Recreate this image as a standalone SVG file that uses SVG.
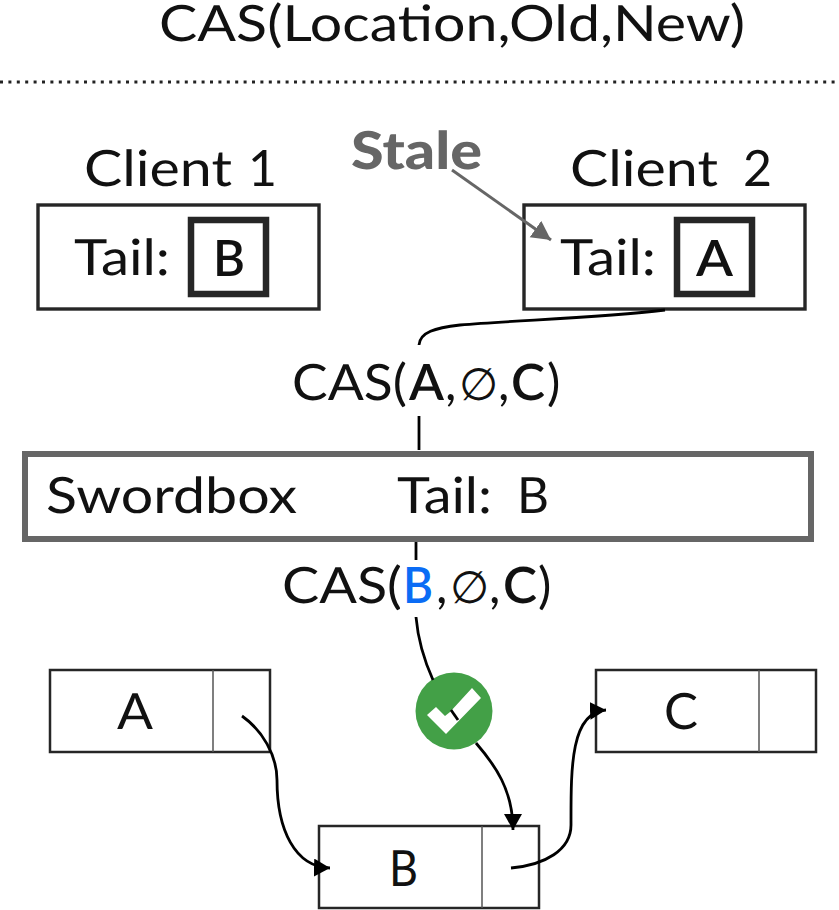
<svg xmlns="http://www.w3.org/2000/svg" width="839" height="910" viewBox="0 0 839 910">
<style>
text{font-family:"Lato","Noto Sans",sans-serif;fill:#111;font-size:50px;text-rendering:geometricPrecision}
.b{font-weight:700}
.m{font-weight:600}
.sym{font-family:"DejaVu Sans",sans-serif;font-size:45px}
.box{fill:#fff;stroke:#262626;stroke-width:3.4}
.cell{fill:#fff;stroke:#262626;stroke-width:2.5}
.div{stroke:#555;stroke-width:1.5;fill:none}
.in{fill:#fff;stroke:#262626;stroke-width:6.5}
.c{fill:none;stroke:#000;stroke-width:2.8}
</style>
<defs>
<marker id="ah" markerUnits="userSpaceOnUse" markerWidth="20" markerHeight="20" refX="16" refY="9" orient="auto"><path d="M0 0L16 9L0 18Z" fill="#000"/></marker>
<marker id="ag" markerUnits="userSpaceOnUse" markerWidth="24" markerHeight="24" refX="19" refY="10" orient="auto"><path d="M0 0L19 10L0 20Z" fill="#666"/></marker>
</defs>
<text id="title" x="159" y="41" textLength="586" lengthAdjust="spacingAndGlyphs">CAS(Location,Old,New)</text>
<line x1="0" y1="82" x2="839" y2="82" stroke="#222" stroke-width="3" stroke-dasharray="3 5.4"/>
<g id="client1">
<text y="186"><tspan x="84" textLength="148" lengthAdjust="spacingAndGlyphs">Client</tspan><tspan x="248">1</tspan></text>
<rect class="box" x="38" y="205" width="281" height="104"/>
<text x="74" y="275" textLength="96" lengthAdjust="spacingAndGlyphs">Tail:</text>
<rect class="in" x="191" y="220" width="75" height="74"/>
<text x="213" y="276" textLength="32" lengthAdjust="spacingAndGlyphs" class="m">B</text>
</g>
<g id="client2">
<text y="186"><tspan x="570" textLength="148" lengthAdjust="spacingAndGlyphs">Client</tspan><tspan x="743">2</tspan></text>
<rect class="box" x="524" y="205" width="281" height="104"/>
<text x="560" y="275" textLength="96" lengthAdjust="spacingAndGlyphs">Tail:</text>
<rect class="in" x="677" y="220" width="75" height="74"/>
<text x="696" y="276" textLength="37" lengthAdjust="spacingAndGlyphs" class="m">A</text>
</g>
<g id="stale">
<text x="351" y="169" textLength="131" lengthAdjust="spacingAndGlyphs" class="b" style="fill:#666;font-weight:900;font-size:52px">Stale</text>
</g>
<g id="swordbox">
<rect x="25" y="454" width="786" height="85" fill="#fff" stroke="#666" stroke-width="6"/>
<text x="46" y="513" textLength="251" lengthAdjust="spacingAndGlyphs">Swordbox</text>
<text x="397" y="513" textLength="95" lengthAdjust="spacingAndGlyphs">Tail:</text>
<text x="517" y="513" textLength="32" lengthAdjust="spacingAndGlyphs">B</text>
</g>
<g id="nodeA">
<rect class="cell" x="50" y="670" width="220" height="82"/>
<line class="div" x1="213" y1="670" x2="213" y2="752"/>
<text x="117" y="729" textLength="36" lengthAdjust="spacingAndGlyphs">A</text>
</g>
<g id="nodeB">
<rect class="cell" x="319" y="826" width="220" height="82"/>
<line class="div" x1="482" y1="826" x2="482" y2="908"/>
<text x="389" y="886" textLength="29" lengthAdjust="spacingAndGlyphs">B</text>
</g>
<g id="nodeC">
<rect class="cell" x="596" y="670" width="220" height="82"/>
<line class="div" x1="759" y1="670" x2="759" y2="752"/>
<text x="664" y="729" textLength="34" lengthAdjust="spacingAndGlyphs">C</text>
</g>
<g id="check">
<circle cx="454" cy="711" r="38.5" fill="#43a047"/>
<path d="M427 715L436 707L445 716L450 712L472 688L481 698L446 734Z" fill="#fff"/>
</g>
<g id="connectors">
<path d="M452 170L551 240" fill="none" stroke="#666" stroke-width="3" marker-end="url(#ag)"/>
<path class="c" d="M665 310C600 318 520 320 460 325C435 328 420 332 419 345"/>
<line class="c" x1="419" y1="416" x2="419" y2="450"/>
<line class="c" x1="416" y1="542" x2="416" y2="560"/>
<path class="c" d="M416 617C418 640 424 660 433 680"/>
<path class="c" d="M451 710L458 720"/>
<path class="c" d="M476 743C495 765 513 790 513 830" marker-end="url(#ah)"/>
<path class="c" d="M242 716C262 730 277 755 277 780C277 830 295 867 330 868" marker-end="url(#ah)"/>
<path class="c" d="M511 868C545 865 571 850 571 825C571 770 570 712 606 710" marker-end="url(#ah)"/>
</g>
<g id="cas1">
<text y="400"><tspan x="292" textLength="115" lengthAdjust="spacingAndGlyphs">CAS(</tspan><tspan x="409" textLength="35" lengthAdjust="spacingAndGlyphs" class="m">A</tspan><tspan x="445">,</tspan><tspan x="459" class="sym">∅</tspan><tspan x="498">,</tspan><tspan x="511" textLength="34" lengthAdjust="spacingAndGlyphs" class="m">C</tspan><tspan x="547">)</tspan></text>
</g>
<g id="cas2">
<text y="603"><tspan x="282" textLength="120" lengthAdjust="spacingAndGlyphs">CAS(</tspan><tspan x="403" textLength="30" lengthAdjust="spacingAndGlyphs" class="m" style="fill:#0a6cf5">B</tspan><tspan x="436">,</tspan><tspan x="450" class="sym">∅</tspan><tspan x="489">,</tspan><tspan x="503" textLength="34" lengthAdjust="spacingAndGlyphs" class="m">C</tspan><tspan x="538">)</tspan></text>
</g>
</svg>
